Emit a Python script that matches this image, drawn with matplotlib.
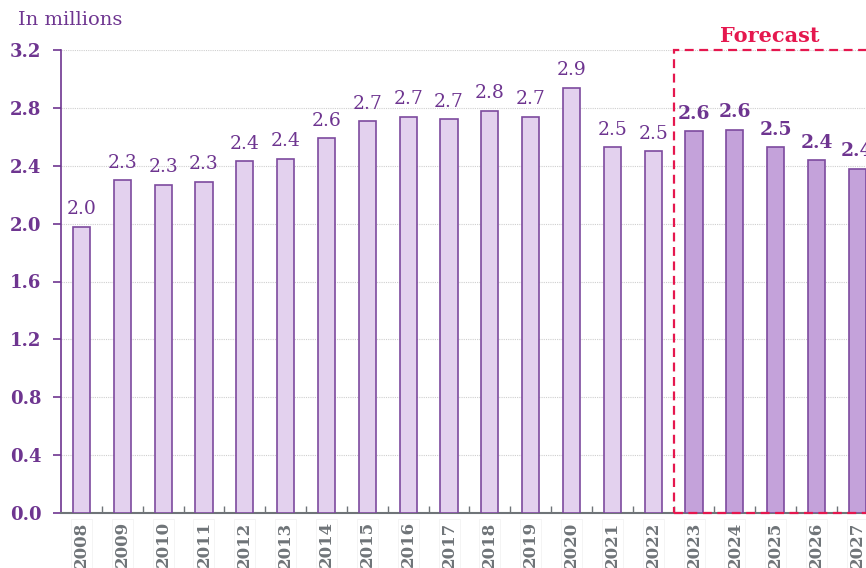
import matplotlib.pyplot as plt
from matplotlib.patches import Rectangle
import numpy as np

years = [str(y) for y in range(2008, 2028)]
values = [1.98, 2.30, 2.27, 2.29, 2.43, 2.45, 2.59, 2.71, 2.74, 2.72,
          2.78, 2.74, 2.94, 2.53, 2.50, 2.64, 2.65, 2.53, 2.44, 2.38]
labels = ["2.0", "2.3", "2.3", "2.3", "2.4", "2.4", "2.6", "2.7", "2.7", "2.7",
          "2.8", "2.7", "2.9", "2.5", "2.5", "2.6", "2.6", "2.5", "2.4", "2.4"]
forecast_from = 2023
yticks = [0.0, 0.4, 0.8, 1.2, 1.6, 2.0, 2.4, 2.8, 3.2]

purple = "#6e3590"
edge = "#7d4a9e"
light = "#e3d1ee"
dark = "#c4a2da"
red = "#e5174e"
serif = "DejaVu Serif"

fig = plt.figure(figsize=(8.66, 5.68), dpi=100)
ax = fig.add_axes([61 / 866, 1 - 513 / 568, 1 - 61 / 866, 463 / 568])

x = np.arange(len(years))
is_fc = [int(y) >= forecast_from for y in years]
colors = [dark if f else light for f in is_fc]
ax.bar(x, values, width=0.42, color=colors, edgecolor=edge, linewidth=1.2, zorder=3)

for xi, v, lab, f in zip(x, values, labels, is_fc):
    ax.annotate(lab, (xi, v), xytext=(0, 6), textcoords="offset points",
                ha="center", va="bottom", fontsize=13.5, color=purple,
                family=serif, fontweight="bold" if f else "normal")

ax.set_ylim(0, 3.2)
ax.set_xlim(-0.5, 19.21)
ax.set_yticks(yticks)
ax.set_yticklabels([f"{t:.1f}" for t in yticks], fontsize=13, fontweight="bold",
                   color=purple, family=serif)
ax.tick_params(axis="y", length=6, width=1.2, color=purple, pad=8)
ax.yaxis.grid(True, linestyle=(0, (1, 1)), color="#cfcfcf", linewidth=0.8, zorder=0)

ax.set_xticks(x)
ax.set_xticklabels(years, rotation=90, fontsize=12, fontweight="bold",
                   color="#6f7478", family=serif)
ax.tick_params(axis="x", length=0, pad=6)
ax.set_xticks(x[:-1] + 0.5, minor=True)
ax.tick_params(axis="x", which="minor", direction="in", length=5, color="#6f7478", width=1)
for t in ax.get_xticklabels():
    t.set_bbox(dict(facecolor="white", edgecolor="#f2f2f2", linewidth=0.6, pad=1.5))

for s in ["top", "right"]:
    ax.spines[s].set_visible(False)
ax.spines["left"].set_color(purple)
ax.spines["left"].set_linewidth(1.2)
ax.spines["bottom"].set_color("#6f7478")
ax.spines["bottom"].set_linewidth(1.5)

# forecast box
fc_start = years.index(str(forecast_from)) - 0.5
ax.add_patch(Rectangle((fc_start, 0), 10, 3.2, fill=False, edgecolor=red,
                       linestyle=(0, (4, 2.5)), linewidth=1.6, clip_on=False, zorder=4))
ax.text(fc_start + 2.35, 3.23, "Forecast", ha="center", va="bottom", fontsize=15,
        fontweight="bold", color=red, family=serif)

fig.text(18 / 866, 1 - 20 / 568, "In millions", fontsize=14, color=purple,
         family=serif, va="center", ha="left")

fig.savefig("out.png", dpi=100)
